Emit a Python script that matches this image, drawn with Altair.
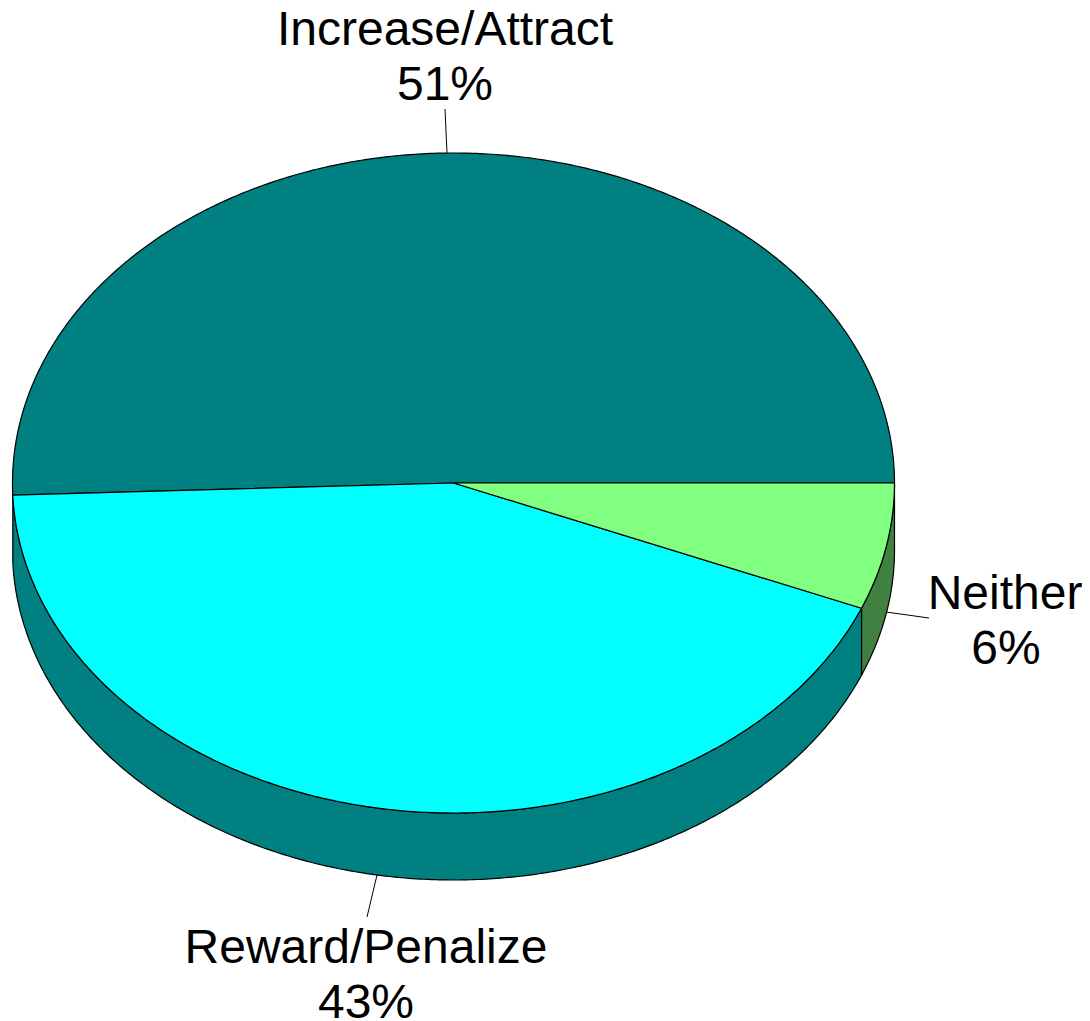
import math
import altair as alt
import pandas as pd

# Slice names, printed shares, and the sweep of each slice (degrees, clockwise from 3 o'clock)
names = ["Neither", "Reward/Penalize", "Increase/Attract"]
shares = ["6%", "43%", "51%"]
sweeps = [22.3, 155.6, 182.1]
top_colors = ["#80ff80", "#00ffff", "#008080"]
side_colors = ["#408040", "#008080", "#008080"]

# Pie geometry (reference pixels)
cx, cy, rx, ry, depth = 453.5, 483.0, 441.0, 330.0, 67.0

# Labels: anchor position and lines
label_x = [1005, 1006, 366, 366, 445, 445]
label_y = [609, 664, 963, 1018, 45, 100]
label_text = ["Neither", "6%", "Reward/Penalize", "43%", "Increase/Attract", "51%"]

# Leader lines
leader_x1 = [886, 377, 447]
leader_y1 = [612, 875, 153]
leader_x2 = [929, 367, 445]
leader_y2 = [618, 917, 109]

xs = alt.Scale(domain=[8, 1082], range=[0, 1074], nice=False, zero=False)
ys = alt.Scale(domain=[8, 1021], range=[0, 1013], nice=False, zero=False)
X = lambda f="x": alt.X(f"{f}:Q", scale=xs, axis=None)
Y = lambda f="y": alt.Y(f"{f}:Q", scale=ys, axis=None)


def ell(a, dy=0.0):
    t = math.radians(a)
    return cx + rx * math.cos(t), cy + ry * math.sin(t) + dy


def arc(a0, a1, dy=0.0):
    n = max(2, int(abs(a1 - a0) * 2))
    return [ell(a0 + (a1 - a0) * i / n, dy) for i in range(n + 1)]


def poly(points, color):
    pts = points + [points[0]]
    df = pd.DataFrame({"x": [p[0] for p in pts], "y": [p[1] for p in pts], "o": range(len(pts))})
    return alt.Chart(df).mark_line(
        filled=True, fill=color, stroke="#000000", strokeWidth=1.2, interpolate="linear", strokeJoin="round"
    ).encode(x=X(), y=Y(), order="o:Q")


edges = [0.0]
for s in sweeps:
    edges.append(edges[-1] + s)

layers = []
# side walls of the two front slices
for i in (0, 1):
    a0, a1 = edges[i], edges[i + 1]
    layers.append(poly(arc(a0, a1) + arc(a1, a0, depth), side_colors[i]))
# top faces
for i in (2, 1, 0):
    a0, a1 = edges[i], edges[i + 1]
    layers.append(poly([(cx, cy)] + arc(a0, a1), top_colors[i]))

leaders = pd.DataFrame({"x": leader_x1, "y": leader_y1, "x2": leader_x2, "y2": leader_y2})
layers.append(
    alt.Chart(leaders).mark_rule(color="#000000", strokeWidth=1).encode(
        x=X(), y=Y(), x2="x2:Q", y2="y2:Q"
    )
)

labels = pd.DataFrame({"x": label_x, "y": label_y, "t": label_text})
layers.append(
    alt.Chart(labels).mark_text(
        font="Liberation Sans", fontSize=48, color="#000000", align="center", baseline="alphabetic"
    ).encode(x=X(), y=Y(), text="t:N")
)

chart = alt.layer(*layers).properties(
    width=1074, height=1013, padding=0, autosize=alt.AutoSizeParams(type="none"), background="#ffffff"
).configure_view(stroke=None)

chart.save("out.html", embed_options={"renderer": "svg", "actions": False})
